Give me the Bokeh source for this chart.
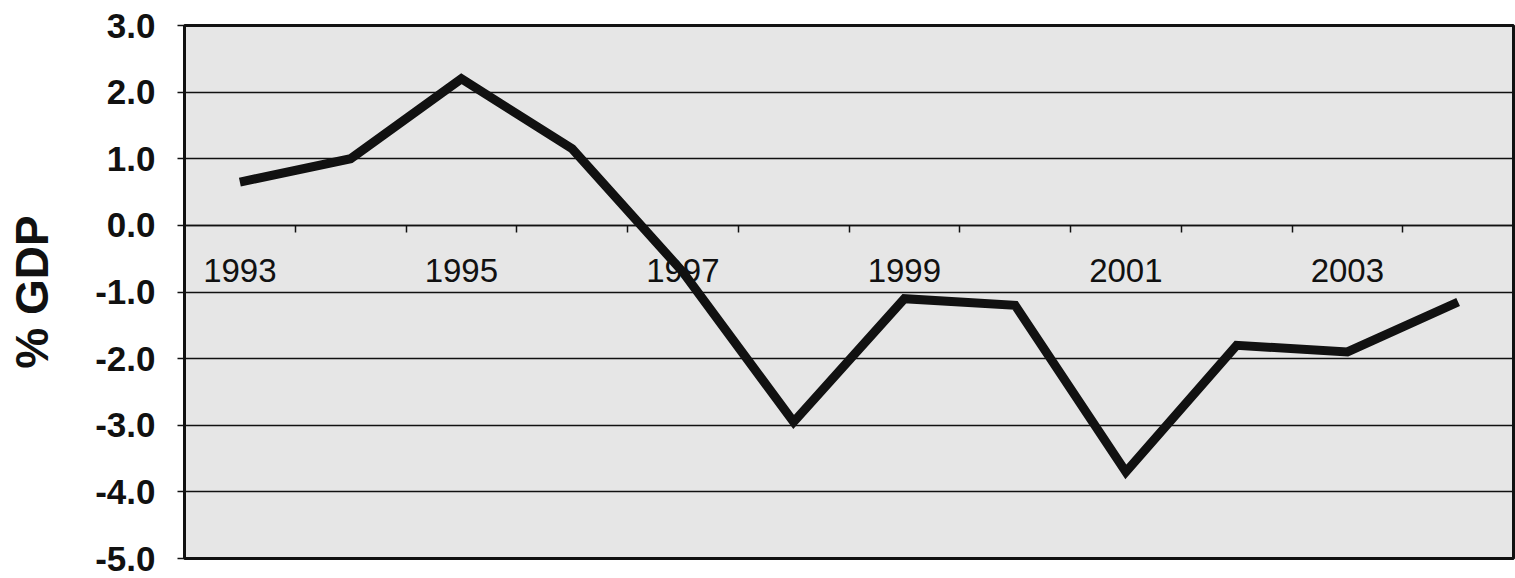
from bokeh.plotting import figure
from bokeh.models import Range1d, FixedTicker, NumeralTickFormatter
from bokeh.embed import file_html
from bokeh.resources import INLINE

# Data
years = [1993, 1994, 1995, 1996, 1997, 1998, 1999, 2000, 2001, 2002, 2003, 2004]
balance_pct_gdp = [0.65, 1.0, 2.2, 1.15, -0.7, -2.95, -1.1, -1.2, -3.7, -1.8, -1.9, -1.15]
y_ticks = [-5, -4, -3, -2, -1, 0, 1, 2, 3]
y_label = "% GDP"

FONT = "Liberation Sans"
INK = "#111111"

idx = list(range(len(years)))

p = figure(
    width=1515, height=576,
    x_range=Range1d(-0.5, len(years) - 0.5),
    y_range=Range1d(min(y_ticks), max(y_ticks)),
    output_backend="svg", toolbar_location=None, title=None,
    min_border_left=184, min_border_right=2,
    min_border_top=25, min_border_bottom=18,
)
p.background_fill_color = "#e6e6e6"
p.border_fill_color = "white"
p.outline_line_color = INK
p.outline_line_width = 3

p.line(idx, balance_pct_gdp, line_width=9, line_color=INK, line_join="miter")

# x axis drawn across the zero line
xa = p.xaxis[0]
xa.fixed_location = 0
label_idx = idx[::2]
xa.ticker = FixedTicker(ticks=label_idx, minor_ticks=[i + 0.5 for i in idx[:-1]])
xa.major_label_overrides = {i: str(years[i]) for i in label_idx}
xa.major_tick_out = 0
xa.major_tick_in = 0
xa.minor_tick_out = 7
xa.minor_tick_in = 0
xa.minor_tick_line_color = INK
xa.minor_tick_line_width = 1.5
xa.axis_line_color = INK
xa.axis_line_width = 1.5
xa.major_label_standoff = 27
xa.major_label_text_font = FONT
xa.major_label_text_font_size = "33px"
xa.major_label_text_color = INK

ya = p.yaxis[0]
ya.ticker = FixedTicker(ticks=y_ticks)
ya.formatter = NumeralTickFormatter(format="0.0")
ya.major_tick_out = 7
ya.major_tick_in = 0
ya.minor_tick_out = 0
ya.minor_tick_in = 0
ya.major_tick_line_color = INK
ya.major_tick_line_width = 1.5
ya.axis_line_color = INK
ya.axis_line_width = 3
ya.major_label_standoff = 22
ya.major_label_text_font = FONT
ya.major_label_text_font_size = "35px"
ya.major_label_text_font_style = "bold"
ya.major_label_text_color = INK
ya.axis_label = y_label
ya.axis_label_text_font = FONT
ya.axis_label_text_font_size = "46px"
ya.axis_label_text_font_style = "bold"
ya.axis_label_text_color = INK
ya.axis_label_standoff = 34

p.xgrid.visible = False
p.ygrid.ticker = FixedTicker(ticks=y_ticks)
p.ygrid.grid_line_color = INK
p.ygrid.grid_line_width = 1.5

open("out.html", "w").write(file_html(p, INLINE))
